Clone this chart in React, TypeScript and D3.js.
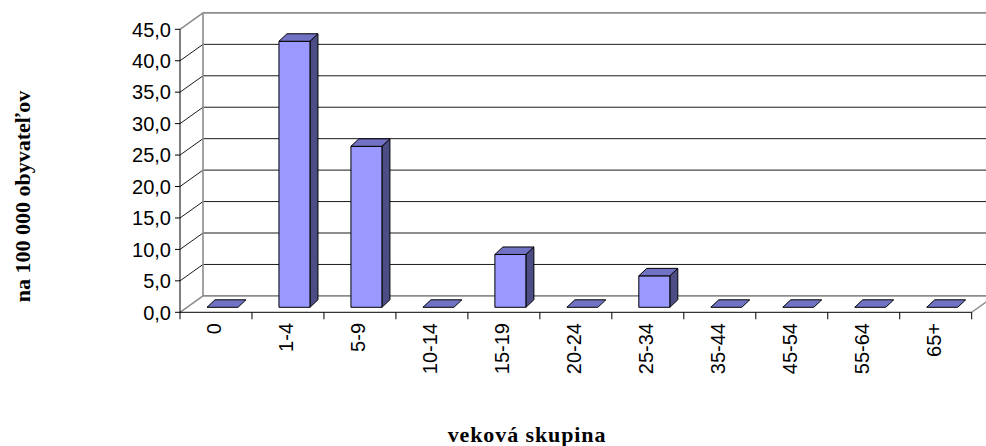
import React from 'react';
import * as d3 from 'd3';

const categories = ['0', '1-4', '5-9', '10-14', '15-19', '20-24', '25-34', '35-44', '45-54', '55-64', '65+'];
const values = [0, 42.3, 25.6, 0, 8.4, 0, 5.0, 0, 0, 0, 0];
const yTicks = [0, 5, 10, 15, 20, 25, 30, 35, 40, 45];

const W = 986;
const H = 446;

// 3D wall depth offset
const DX = 23;
const DY = -16.4;
// bar front plane offset and bar depth
const BFX = 6.5;
const BFY = -5;
const BDX = 8;
const BDY = -7.5;

const fmt = (v: number) => v.toFixed(1).replace('.', ',');

export default function App() {
  const x = d3.scaleBand<string>().domain(categories).range([180, 971.7]).paddingInner(0).paddingOuter(0);
  const y = d3.scaleLinear().domain([0, 45]).range([312.3, 29.3]);
  const x0 = 180;
  const xEnd = 971.7;
  const barW = 31;
  const gray = '#8c8c8c';
  const labelFont = '20px "Liberation Sans", Arial, sans-serif';
  const titleFont = 'bold 22px "Liberation Serif", "Times New Roman", serif';

  return (
    <svg width={W} height={H} style={{ position: 'absolute', left: 0, top: 0, background: '#fff' }}>
      {/* back wall gridlines */}
      {yTicks.map(t => (
        <line key={'g' + t} x1={x0 + DX} x2={W + 20} y1={y(t) + DY} y2={y(t) + DY}
          stroke={t === 0 || t === 45 ? gray : '#000'} strokeWidth={t === 0 || t === 45 ? 1.6 : 0.9} />
      ))}
      {/* side wall gridlines */}
      {yTicks.map(t => (
        <line key={'s' + t} x1={x0} y1={y(t)} x2={x0 + DX} y2={y(t) + DY}
          stroke={t === 0 || t === 45 ? gray : '#000'} strokeWidth={t === 0 || t === 45 ? 1.6 : 0.9} />
      ))}
      {/* side wall back edge */}
      <line x1={x0 + DX} x2={x0 + DX} y1={y(45) + DY} y2={y(0) + DY} stroke={gray} strokeWidth={1.6} />
      {/* floor right edge */}
      <line x1={xEnd} y1={y(0)} x2={xEnd + DX} y2={y(0) + DY} stroke={gray} strokeWidth={1.4} />

      {/* bars */}
      {categories.map((c, i) => {
        const v = values[i];
        const fx = (x(c) as number) + (x.bandwidth() - barW) / 2 + BFX;
        const fb = y(0) + BFY;
        const ft = y(v) + BFY;
        const front = `M${fx},${ft}L${fx + barW},${ft}L${fx + barW},${fb}L${fx},${fb}Z`;
        const top = `M${fx},${ft}L${fx + BDX},${ft + BDY}L${fx + barW + BDX},${ft + BDY}L${fx + barW},${ft}Z`;
        const side = `M${fx + barW},${ft}L${fx + barW + BDX},${ft + BDY}L${fx + barW + BDX},${fb + BDY}L${fx + barW},${fb}Z`;
        return (
          <g key={c} stroke="#000" strokeWidth={1} strokeLinejoin="round">
            {v > 0 && <path d={side} fill="#4d4d85" />}
            {v > 0 && <path d={front} fill="#9999ff" />}
            <path d={top} fill="#7272c4" />
          </g>
        );
      })}

      {/* y axis */}
      <line x1={x0} x2={x0} y1={y(45)} y2={y(0)} stroke="#000" strokeWidth={1} />
      {yTicks.map(t => (
        <g key={'t' + t}>
          <line x1={x0 - 5} x2={x0} y1={y(t)} y2={y(t)} stroke="#000" strokeWidth={1} />
          <text x={171} y={y(t)} dy="0.36em" textAnchor="end" style={{ font: labelFont }} fill="#000">{fmt(t)}</text>
        </g>
      ))}

      {/* x axis */}
      <line x1={x0} x2={xEnd} y1={y(0)} y2={y(0)} stroke="#000" strokeWidth={1} />
      {[...categories.map(c => x(c) as number), xEnd].map((px, i) => (
        <line key={'xt' + i} x1={px} x2={px} y1={y(0)} y2={y(0) + 7} stroke="#000" strokeWidth={1} />
      ))}
      {categories.map(c => {
        const cx = (x(c) as number) + x.bandwidth() / 2 - 2;
        return (
          <text key={'xl' + c} transform={`translate(${cx},323) rotate(-90)`} dy="0.36em" textAnchor="end"
            style={{ font: labelFont }} fill="#000">{c}</text>
        );
      })}

      {/* axis titles */}
      <text transform="translate(30,196.5) rotate(-90)" textAnchor="middle"
        style={{ font: titleFont }} fill="#000">na 100 000 obyvateľov</text>
      <text x={527} y={441.5} textAnchor="middle" letterSpacing="0.9"
        style={{ font: titleFont }} fill="#000">veková skupina</text>
    </svg>
  );
}
